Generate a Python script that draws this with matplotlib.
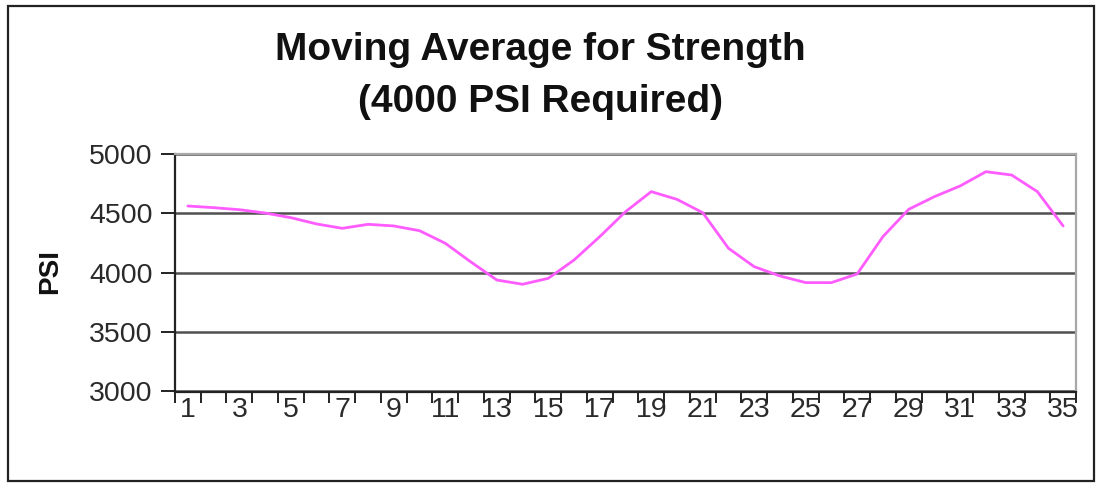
import matplotlib
matplotlib.use("Agg")
import matplotlib.pyplot as plt
from matplotlib.patches import Rectangle
from matplotlib.ticker import FixedLocator

# Moving average of concrete strength per test number
test_numbers = list(range(1, 36))
strength_psi = [4562, 4548, 4531, 4503, 4464, 4411, 4374, 4408, 4394, 4354,
                4248, 4090, 3939, 3903, 3953, 4107, 4304, 4514, 4683, 4618,
                4506, 4206, 4051, 3973, 3917, 3917, 3990, 4304, 4534, 4641,
                4731, 4851, 4823, 4683, 4394]
y_ticks = [3000, 3500, 4000, 4500, 5000]
x_labels = [str(n) for n in test_numbers if n % 2 == 1]

title_text = "Moving Average for Strength\n(4000 PSI Required)"
y_label = "PSI"

plt.rcParams["font.family"] = ["Liberation Sans", "DejaVu Sans"]

W, H = 1102, 483
fig = plt.figure(figsize=(W / 100, H / 100), dpi=100)
fig.patch.set_facecolor("white")

# outer chart frame
fig.patches.append(Rectangle((8 / W, 1 - 481 / H), (1094 - 8) / W, (481 - 6) / H,
                             transform=fig.transFigure, fill=False,
                             edgecolor="#222222", linewidth=1.6, zorder=0))

left, right, top, bottom = 175, 1076, 154, 391.5
ax = fig.add_axes([left / W, 1 - bottom / H, (right - left) / W, (bottom - top) / H])

ax.plot(test_numbers, strength_psi, color="#ff5cff", linewidth=2.0, zorder=3,
        solid_joinstyle="round", solid_capstyle="round")

ax.set_xlim(0.5, 35.5)
ax.set_ylim(3000, 5000)

# horizontal gridlines
ax.set_yticks(y_ticks)
ax.yaxis.grid(True, color="#505050", linewidth=1.8)
ax.set_axisbelow(True)
ax.tick_params(axis="y", direction="out", length=10, width=1.4, color="#222222",
               labelsize=20.5, labelcolor="#2a2a2a", pad=6)

# x axis: marks between categories, labels on odd categories
odd = [n for n in test_numbers if n % 2 == 1]
ax.xaxis.set_major_locator(FixedLocator(odd))
ax.set_xticklabels(x_labels)
ax.xaxis.set_minor_locator(FixedLocator([n + 0.5 for n in range(0, 36)]))
ax.tick_params(axis="x", which="major", length=0, labelsize=20.5,
               labelcolor="#2a2a2a", pad=4)
ax.tick_params(axis="x", which="minor", direction="out", length=8, width=1.4,
               color="#222222")

for side in ("left", "bottom"):
    ax.spines[side].set_color("#222222")
    ax.spines[side].set_linewidth(1.6)
for side in ("top", "right"):
    ax.spines[side].set_color("#a8a8a8")
    ax.spines[side].set_linewidth(1.6)

fig.text(540 / W, 1 - 76 / H, title_text, ha="center", va="center",
         fontsize=28, fontweight="bold", color="#111111", linespacing=1.55)

fig.text(50 / W, 1 - 272 / H, y_label, ha="center", va="center", rotation=90,
         fontsize=20, fontweight="bold", color="#111111")

fig.savefig("out.png", dpi=100, facecolor="white")
